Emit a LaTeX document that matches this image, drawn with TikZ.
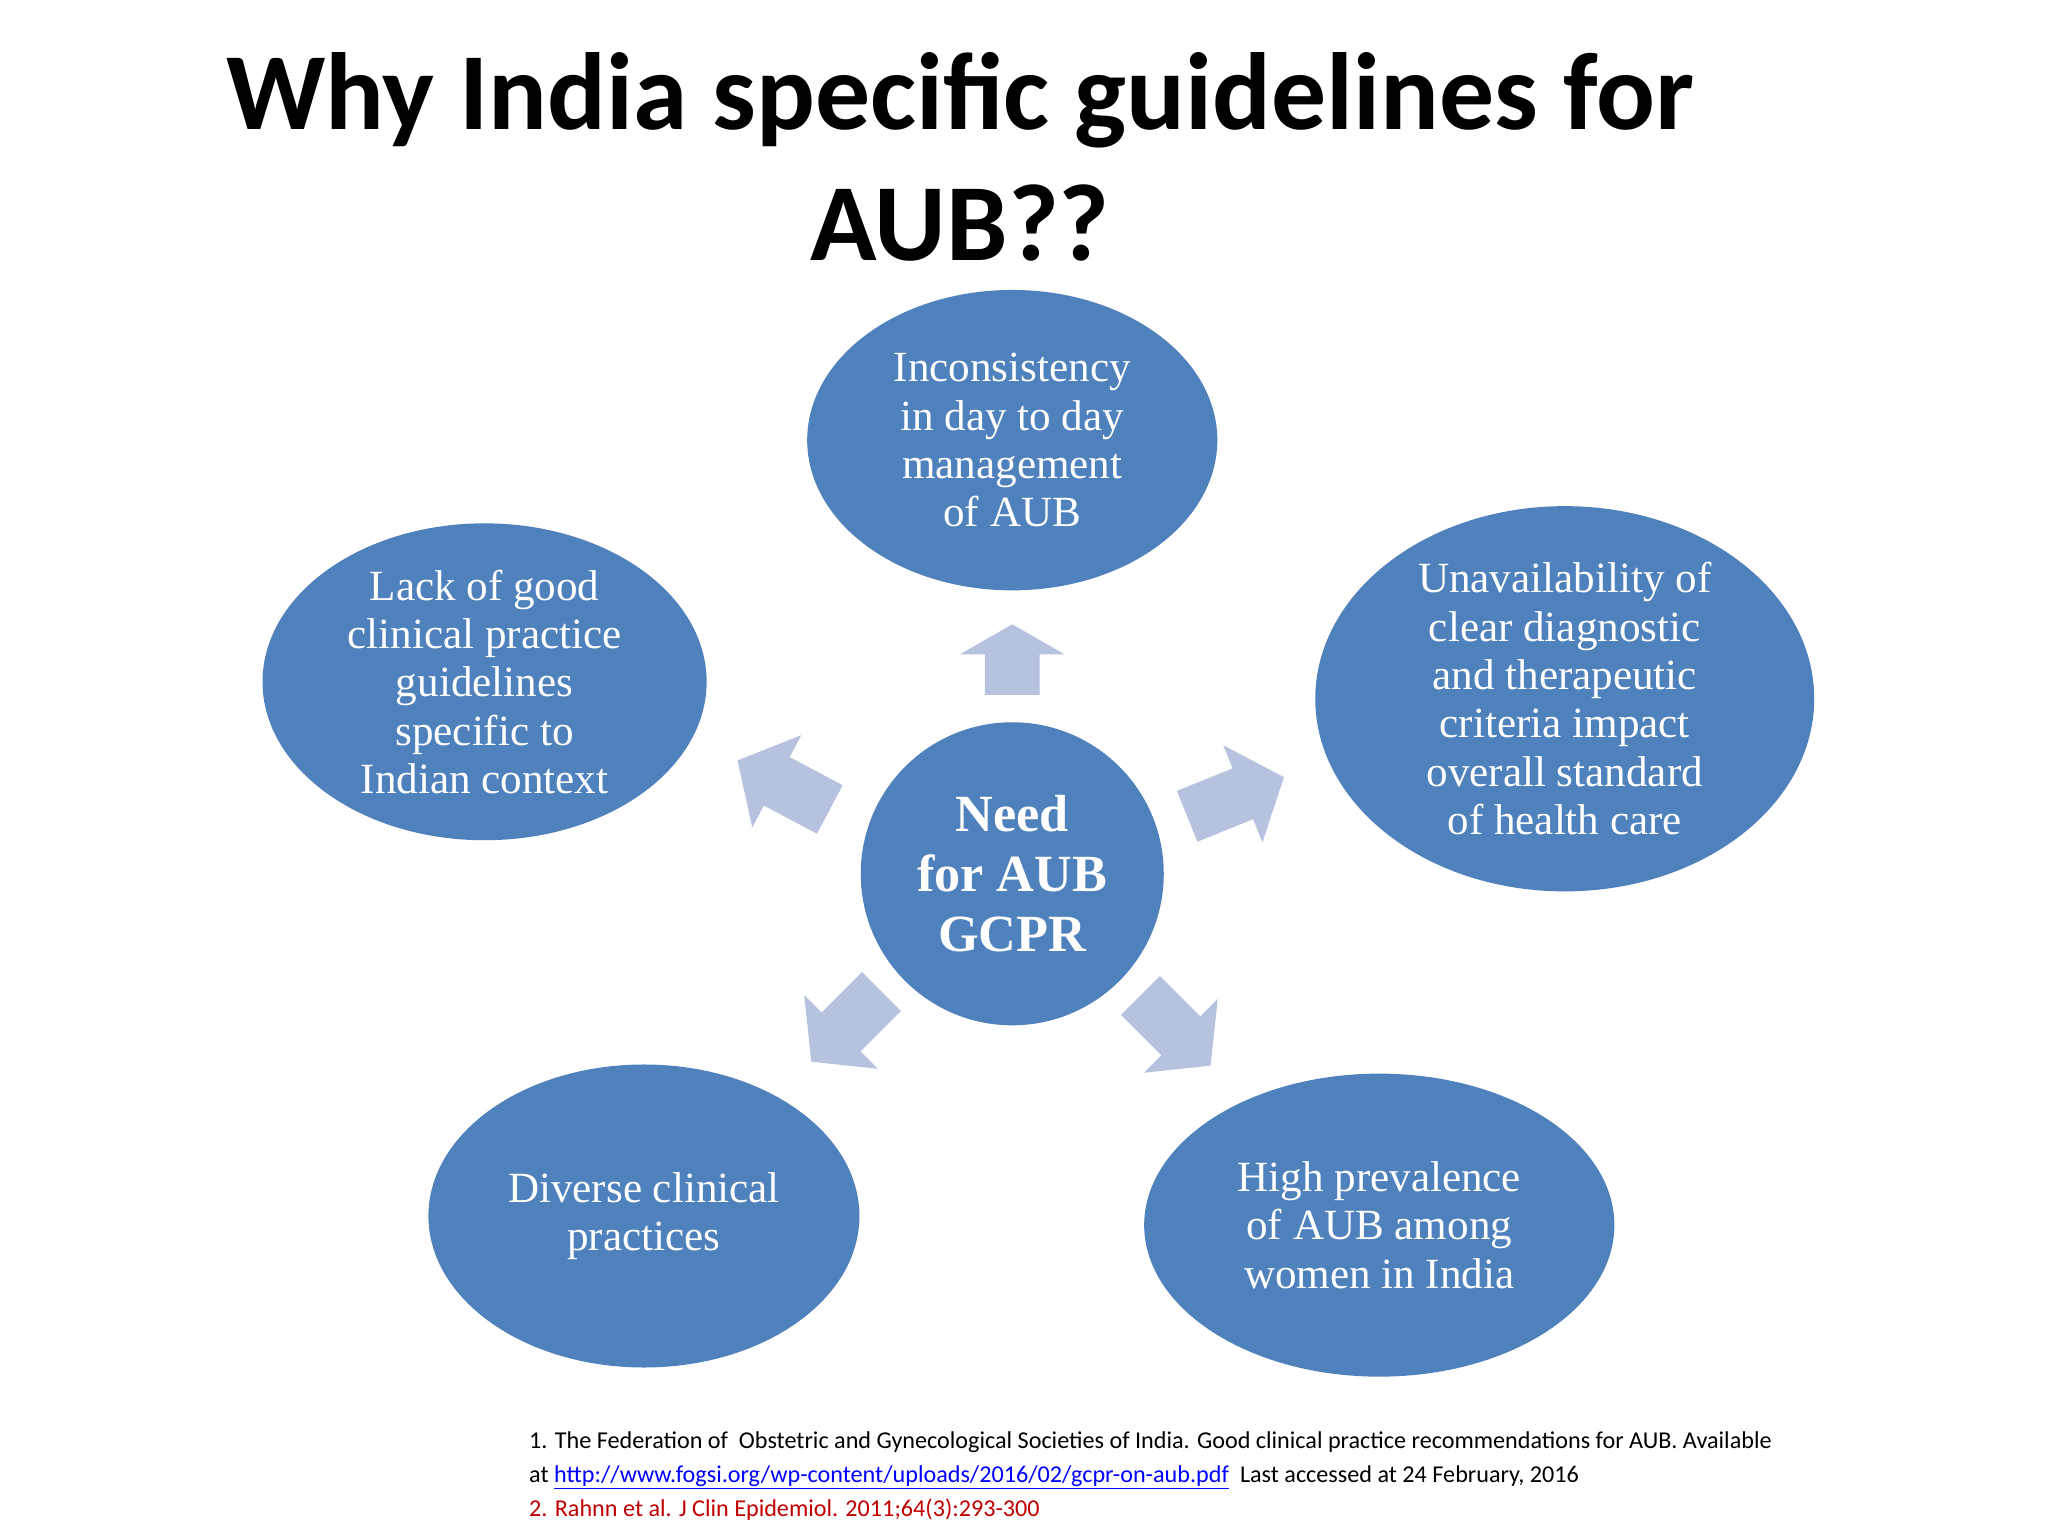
\documentclass[tikz,border=0pt]{standalone}
\usepackage{fontspec}
\setmainfont{Liberation Serif}
\newfontfamily\calfont{Carlito}
\usetikzlibrary{shapes.geometric}
\definecolor{ell}{HTML}{4F81BD}
\definecolor{arr}{HTML}{B6C2DE}
\definecolor{lnk}{HTML}{0000FF}
\definecolor{rd}{HTML}{C00000}
\newcommand\blockarrow[4]{\fill[arr, shift={(#1,#2)}, rotate=#3] (-#4,-21) -- (#4*0.15,-21) -- (#4*0.15,-40) -- (#4,0) -- (#4*0.15,40) -- (#4*0.15,21) -- (-#4,21) -- cycle;}
\begin{document}
\begin{tikzpicture}[x=1pt,y=1pt,
  bub/.style={ellipse, fill=ell, text=white, align=center, inner sep=0pt, font=\fontsize{33}{37}\selectfont}]
\useasboundingbox (0,0) rectangle (1568,1176);
\fill[white] (0,0) rectangle (1568,1176);
\node[font=\calfont\bfseries\fontsize{84}{100}\selectfont, align=center] (title) at (735,1056) {Why India specific guidelines for\\AUB??};
\node[bub, minimum width=314, minimum height=230] (top) at (775,839) {Inconsistency\\in day to day\\management\\of AUB};
\node[bub, minimum width=340, minimum height=232] (left) at (371,654) {Lack of good\\clinical practice\\guidelines\\specific to\\Indian context};
\node[bub, minimum width=382, minimum height=282] (right) at (1198,641) {Unavailability of\\clear diagnostic\\and therapeutic\\criteria impact\\overall standard\\of health care};
\node[bub, minimum width=330, minimum height=232] (bl) at (493,245) {Diverse clinical\\practices};
\node[bub, minimum width=360, minimum height=232] (br) at (1056,238) {High prevalence\\of AUB among\\women in India};
\node[circle, fill=ell, text=white, align=center, minimum size=232, inner sep=0pt, font=\bfseries\fontsize{40}{46}\selectfont] (c) at (775,507) {Need\\for AUB\\GCPR};
\blockarrow{775}{671}{90}{27}
\blockarrow{600}{575}{152}{40}
\blockarrow{946}{566}{22}{40}
\blockarrow{648}{390}{225}{38}
\blockarrow{900}{387}{-45}{38}
\node[anchor=north west, align=left, font=\calfont\fontsize{18.5}{26}\selectfont, inner sep=0pt] (ref) at (405,80) {1. The Federation of\ \ Obstetric and Gynecological Societies of India. Good clinical practice recommendations for AUB. Available\\at \textcolor{lnk}{\underline{http://www.fogsi.org/wp-content/uploads/2016/02/gcpr-on-aub.pdf}}\ \ Last accessed at 24 February, 2016\\\textcolor{rd}{2. Rahnn et al. J Clin Epidemiol. 2011;64(3):293-300}};
\end{tikzpicture}
\end{document}
